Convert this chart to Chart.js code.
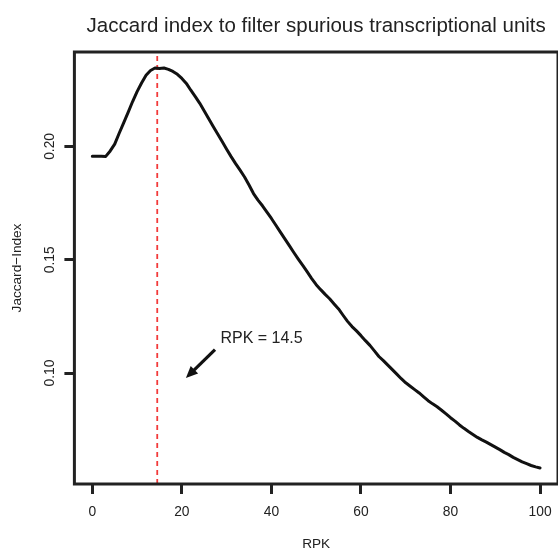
<!DOCTYPE html>
<html>
<head>
<meta charset="utf-8">
<script src="https://cdn.jsdelivr.net/npm/chart.js@4.4.1/dist/chart.umd.min.js"></script>
<style>
  html, body { margin: 0; padding: 0; background: #fff; }
  #wrap { width: 558px; height: 549px; }
</style>
</head>
<body>
<div id="wrap"><canvas id="jaccardChart" width="558" height="549"></canvas></div>
<script>
// RPK cutoff values (x) and Jaccard index (y)
const rpk = [
  0, 1, 2, 3, 4, 5, 6, 7, 8, 9,
  10, 11, 12, 13, 14, 15, 16, 17, 18, 19,
  20, 21, 22, 23, 24, 25, 26, 27, 28, 29,
  30, 31, 32, 33, 34, 35, 36, 37, 38, 39,
  40, 41, 42, 43, 44, 45, 46, 47, 48, 49,
  50, 51, 52, 53, 54, 55, 56, 57, 58, 59,
  60, 61, 62, 63, 64, 65, 66, 67, 68, 69,
  70, 71, 72, 73, 74, 75, 76, 77, 78, 79,
  80, 81, 82, 83, 84, 85, 86, 87, 88, 89,
  90, 91, 92, 93, 94, 95, 96, 97, 98, 99,
  100
];
const jaccard = [
  0.1957, 0.1957, 0.1957, 0.1956, 0.1980, 0.2010, 0.2058, 0.2104, 0.2150, 0.2198,
  0.2242, 0.2280, 0.2314, 0.2335, 0.2346, 0.2344, 0.2346, 0.2340, 0.2331, 0.2318,
  0.2300, 0.2278, 0.2248, 0.2220, 0.2190, 0.2156, 0.2122, 0.2088, 0.2055, 0.2022,
  0.1988, 0.1955, 0.1924, 0.1895, 0.1865, 0.1830, 0.1792, 0.1763, 0.1738, 0.1710,
  0.1682, 0.1652, 0.1622, 0.1592, 0.1562, 0.1532, 0.1503, 0.1475, 0.1446, 0.1417,
  0.1390, 0.1368, 0.1347, 0.1328, 0.1305, 0.1283, 0.1255, 0.1228, 0.1205, 0.1186,
  0.1165, 0.1143, 0.1122, 0.1098, 0.1073, 0.1055, 0.1035, 0.1015, 0.0995, 0.0975,
  0.0957, 0.0942, 0.0927, 0.0912, 0.0895, 0.0878, 0.0864, 0.0851, 0.0836, 0.0820,
  0.0803, 0.0788, 0.0771, 0.0756, 0.0742, 0.0729, 0.0716, 0.0705, 0.0695, 0.0684,
  0.0673, 0.0662, 0.0650, 0.0640, 0.0628, 0.0618, 0.0608, 0.0600, 0.0592, 0.0586,
  0.0581
];

// tick labels
const xTicks = [0, 20, 40, 60, 80, 100];
const yTicks = [0.10, 0.15, 0.20];

// cutoff marker and its note
const cutoff = 14.5;
const noteText = 'RPK = 14.5';
const notePos = [37.8, 0.115];
const arrowFrom = [27.4, 0.1103];
const arrowTo = [20.9, 0.0978];

// axis ranges like R (4% extension)
const xMin = -4, xMax = 104;
const yLo = Math.min(...jaccard), yHi = Math.max(...jaccard);
const yMin = yLo - 0.04 * (yHi - yLo);
const yMax = yHi + 0.04 * (yHi - yLo);

const FONT = 'Liberation Sans, Arial, Helvetica, sans-serif';
const INK = '#222';

// box around the plot + arrow and label
const boxAndNote = {
  id: 'boxAndNote',
  afterDraw(chart) {
    const {ctx, chartArea: a, scales: {x, y}} = chart;
    ctx.save();
    ctx.strokeStyle = INK;
    ctx.lineWidth = 3;
    ctx.strokeRect(a.left, a.top, a.right - a.left, a.bottom - a.top);

    // arrow
    const x0 = x.getPixelForValue(arrowFrom[0]), y0 = y.getPixelForValue(arrowFrom[1]);
    const x1 = x.getPixelForValue(arrowTo[0]), y1 = y.getPixelForValue(arrowTo[1]);
    const ang = Math.atan2(y1 - y0, x1 - x0);
    const head = 13;
    ctx.strokeStyle = '#111';
    ctx.lineWidth = 3.2;
    ctx.beginPath();
    ctx.moveTo(x0, y0);
    ctx.lineTo(x1 - Math.cos(ang) * 6, y1 - Math.sin(ang) * 6);
    ctx.stroke();
    ctx.fillStyle = '#111';
    ctx.beginPath();
    ctx.moveTo(x1, y1);
    ctx.lineTo(x1 - head * Math.cos(ang - 0.42), y1 - head * Math.sin(ang - 0.42));
    ctx.lineTo(x1 - head * Math.cos(ang + 0.42), y1 - head * Math.sin(ang + 0.42));
    ctx.closePath();
    ctx.fill();

    // label
    ctx.fillStyle = INK;
    ctx.font = '16px ' + FONT;
    ctx.textAlign = 'center';
    ctx.textBaseline = 'middle';
    ctx.fillText(noteText, x.getPixelForValue(notePos[0]), y.getPixelForValue(notePos[1]));
    ctx.restore();
  }
};

new Chart(document.getElementById('jaccardChart'), {
  type: 'line',
  data: {
    datasets: [{
      label: 'Jaccard index',
      data: rpk.map((v, i) => ({x: v, y: jaccard[i]})),
      borderColor: '#111',
      borderWidth: 3,
      borderJoinStyle: 'round',
      borderCapStyle: 'round',
      pointRadius: 0,
      tension: 0
    }, {
      label: 'cutoff',
      data: [{x: cutoff, y: yMin}, {x: cutoff, y: yMax}],
      borderColor: '#f23a3a',
      borderWidth: 1.8,
      borderDash: [5, 4],
      pointRadius: 0
    }]
  },
  options: {
    responsive: false,
    animation: false,
    layout: { padding: { left: 0, right: -0.6, top: 0, bottom: 0 } },
    plugins: {
      legend: { display: false },
      tooltip: { enabled: false },
      title: {
        display: true,
        fullSize: false,
        text: 'Jaccard index to filter spurious transcriptional units',
        color: INK,
        font: { family: FONT, size: 20.5, weight: 'normal' },
        padding: { top: 13.7, bottom: 13.7 }
      }
    },
    scales: {
      x: {
        type: 'linear',
        min: xMin,
        max: xMax,
        afterBuildTicks: s => { s.ticks = xTicks.map(v => ({value: v})); },
        afterFit: s => { s.height = 65; s.paddingLeft = 0; s.paddingRight = 0; },
        border: { display: false },
        grid: { drawOnChartArea: false, drawTicks: true, tickLength: 10, lineWidth: 3, color: INK },
        ticks: { color: INK, font: { family: FONT, size: 13.8 }, padding: 9.5, maxRotation: 0 },
        title: {
          display: true, text: 'RPK', color: INK,
          font: { family: FONT, size: 13.6 },
          padding: { top: 0, bottom: -3.8 }
        }
      },
      y: {
        type: 'linear',
        min: yMin,
        max: yMax,
        afterBuildTicks: s => { s.ticks = yTicks.map(v => ({value: v})); },
        afterFit: s => { s.width = 74.4; s.paddingTop = 0; s.paddingBottom = 0; },
        border: { display: false },
        grid: { drawOnChartArea: false, drawTicks: true, tickLength: 10, lineWidth: 3, color: INK },
        ticks: {
          color: INK, font: { family: FONT, size: 13.8 },
          minRotation: 90, maxRotation: 90, crossAlign: 'center', padding: 1.2,
          callback: v => v.toFixed(2)
        },
        title: {
          display: true, text: 'Jaccard\u2212Index', color: INK,
          font: { family: FONT, size: 13.6 },
          padding: { top: 8.9, bottom: 0 }
        }
      }
    }
  },
  plugins: [boxAndNote]
});
</script>
</body>
</html>
